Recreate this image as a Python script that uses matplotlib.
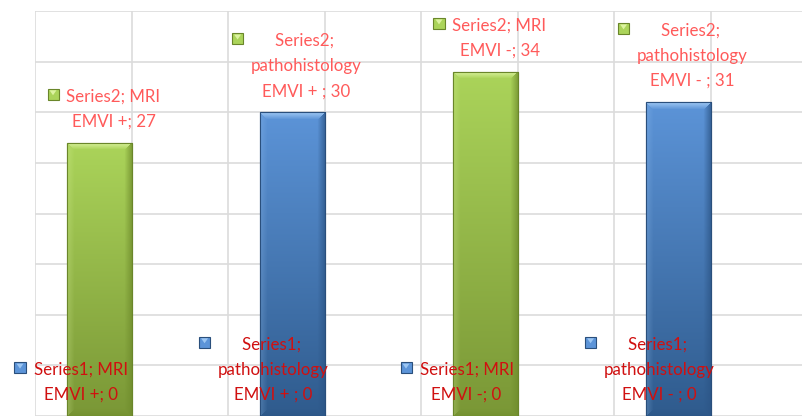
import numpy as np
import matplotlib
matplotlib.use("Agg")
import matplotlib.pyplot as plt
from matplotlib.patches import Rectangle, Polygon
from matplotlib.colors import to_rgb

# ---- data -------------------------------------------------------------
categories = ["MRI\nEMVI +", "\npathohistology\nEMVI + ",
              "MRI\nEMVI -", "\npathohistology\nEMVI - "]
series_names = ["Series1", "Series2"]
series1_values = [0, 0, 0, 0]
series2_values = [27, 30, 34, 31]
bar_styles = ["green", "blue", "green", "blue"]

# ---- styling ----------------------------------------------------------
palette = {
    "green": {"top": "#abd45a", "bottom": "#7a9736", "hi": "#dcf3a0",
              "edge": "#6a862a", "dark": "#6f8c2c"},
    "blue": {"top": "#5c94d8", "bottom": "#2f5b8d", "hi": "#9cc6f2",
             "edge": "#2a4f7c", "dark": "#2c5586"},
}
label_colors = {"Series1": "#d01010", "Series2": "#ff5a5a"}
marker_styles = {"Series1": "blue", "Series2": "green"}
FONT = ["Lato", "DejaVu Sans"]
FONT_SIZE = 12.2
LINE_SPACING = 1.72

W, H, DPI = 802, 417, 100
fig = plt.figure(figsize=(W / DPI, H / DPI), dpi=DPI)
ax = fig.add_axes([35 / W, 1 / H, 770 / W, 405 / H])

x = np.arange(len(categories))
bar_w = 1 / 3
xmax = -0.5 + 770 / 193
ax.set_xlim(-0.5, xmax)
ax.set_ylim(0, 40)
ax.set_xticks(np.arange(-0.5, xmax, 0.5))
ax.set_yticks(np.arange(0, 41, 5))
ax.tick_params(length=0, labelbottom=False, labelleft=False)
ax.grid(True, color="#dcdcdc", lw=1.2)
ax.set_axisbelow(True)
for sp in ax.spines.values():
    sp.set_visible(False)

bars1 = ax.bar(x - 2 * bar_w, series1_values, bar_w, align="edge",
               color=palette["blue"]["top"], linewidth=0)
bars2 = ax.bar(x - bar_w, series2_values, bar_w, align="edge",
               color=[palette[s]["top"] for s in bar_styles],
               edgecolor=[palette[s]["edge"] for s in bar_styles],
               linewidth=0.8, zorder=2)


def bevel_image(wpx, hpx, pal, b=7):
    top = np.array(to_rgb(pal["top"]))
    bot = np.array(to_rgb(pal["bottom"]))
    hi = np.array(to_rgb(pal["hi"]))
    dark = np.array(to_rgb(pal["dark"]))
    t = np.linspace(0, 1, hpx)[:, None, None]
    img = np.repeat(top * (1 - t) + bot * t, wpx, axis=1)
    r = np.arange(hpx)[:, None] * np.ones((1, wpx))
    c = np.ones((hpx, 1)) * np.arange(wpx)[None, :]
    dl, dr, dt, db = c, wpx - 1 - c, r, hpx - 1 - r
    m = np.minimum(np.minimum(dl, dr), np.minimum(dt, db))
    f = np.clip(1 - m / b, 0, 1)[..., None]
    top_z = ((dt == m) & (m < b))[..., None]
    right_z = ((dr == m) & (m < b) & ~top_z[..., 0])[..., None]
    left_z = ((dl == m) & (m < b) & ~top_z[..., 0])[..., None]
    bot_z = ((db == m) & (m < b) & ~right_z[..., 0] & ~left_z[..., 0])[..., None]
    img = np.where(top_z, img * (1 - f) + hi * f, img)
    img = np.where(right_z, img * (1 - 0.7 * f) + dark * 0.7 * f, img)
    img = np.where(left_z, img * (1 - 0.25 * f) + hi * 0.25 * f, img)
    img = np.where(bot_z, img * (1 - 0.5 * f) + dark * 0.5 * f, img)
    return np.clip(img, 0, 1)


fig.canvas.draw()
for rect, style in zip(bars2, bar_styles):
    x0, y0 = rect.get_x(), rect.get_y()
    x1, y1 = x0 + rect.get_width(), y0 + rect.get_height()
    p0 = ax.transData.transform((x0, y0))
    p1 = ax.transData.transform((x1, y1))
    wpx, hpx = int(round(p1[0] - p0[0])), int(round(p1[1] - p0[1]))
    im = ax.imshow(bevel_image(wpx, hpx, palette[style]),
                   extent=(x0, x1, y0, y1), origin="upper", aspect="auto",
                   interpolation="bilinear", zorder=2.5)
    im.set_clip_path(rect)
    ax.add_patch(Rectangle((x0, y0), x1 - x0, y1 - y0, fill=False,
                           edgecolor=palette[style]["edge"], lw=0.8, zorder=2.6))
ax.set_xlim(-0.5, xmax)
ax.set_ylim(0, 40)

# ---- data labels ------------------------------------------------------
label_dx = {"Series1": -51, "Series2": -18}
texts = []
for name, vals in zip(series_names, [series1_values, series2_values]):
    for xi, cat, v in zip(x, categories, vals):
        t = ax.annotate(f"{name}; {cat}; {v}", xy=(xi, v),
                        xytext=(label_dx[name], 13), textcoords="offset pixels",
                        ha="center", va="bottom", color=label_colors[name],
                        family=FONT, fontsize=FONT_SIZE,
                        linespacing=LINE_SPACING, annotation_clip=False,
                        zorder=5)
        texts.append((name, t))

fig.canvas.draw()
renderer = fig.canvas.get_renderer()
to_fig = fig.transFigure.inverted()
msize = 11
for name, t in texts:
    bb = t.get_window_extent(renderer)
    right = bb.x0 - 8
    cy = bb.y1 - 6
    pal = palette[marker_styles[name]]
    (fx0, fy0) = to_fig.transform((right - msize, cy - msize / 2))
    (fx1, fy1) = to_fig.transform((right, cy + msize / 2))
    fig.add_artist(Rectangle((fx0, fy0), fx1 - fx0, fy1 - fy0,
                             transform=fig.transFigure,
                             facecolor=pal["top"], edgecolor=pal["edge"],
                             lw=0.8, zorder=6))
    (tx0, ty0) = to_fig.transform((right - msize + 2, cy + msize / 2 - 1.5))
    (tx1, _) = to_fig.transform((right - 2, cy))
    (tmx, tmy) = to_fig.transform((right - msize / 2, cy - 1))
    fig.add_artist(Polygon([(tx0, ty0), (tx1, ty0), (tmx, tmy)],
                           closed=True, transform=fig.transFigure,
                           facecolor=pal["hi"], edgecolor="none", zorder=7))

fig.savefig("out.png", dpi=DPI)
